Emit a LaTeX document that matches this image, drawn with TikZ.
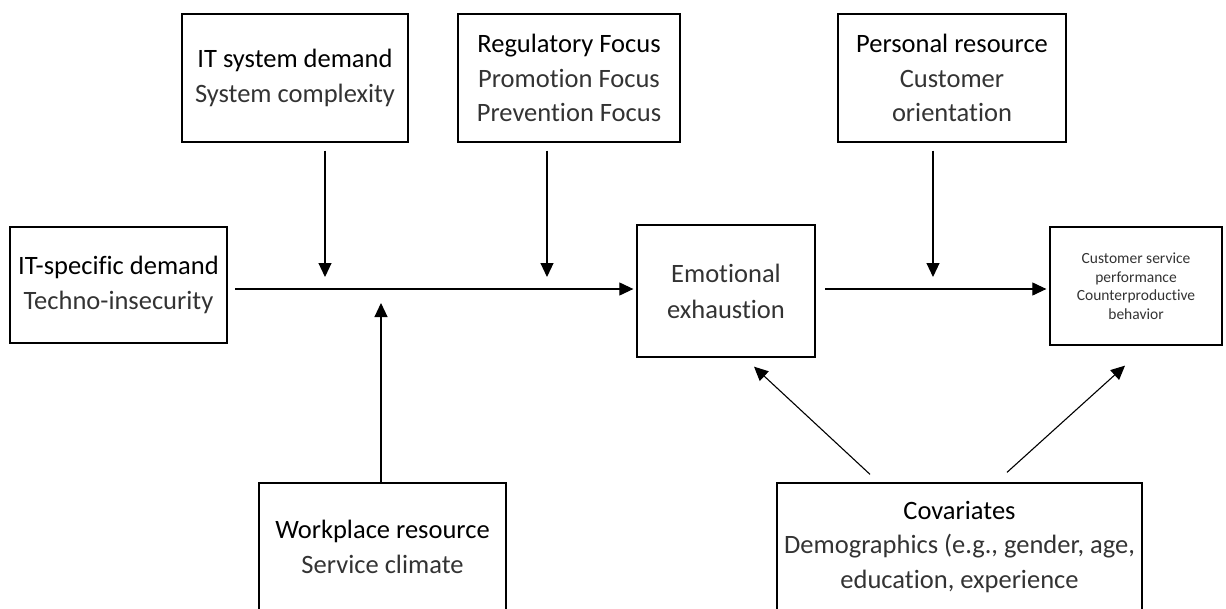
\documentclass[tikz,border=0pt]{standalone}
\usepackage{fontspec}
\setmainfont{Carlito}[Ligatures=NoCommon]
\usetikzlibrary{arrows.meta}

\tikzset{
  box/.style={draw, line width=1.3pt, align=center, inner sep=0pt},
  arr/.style={line width=1.1pt, -{Triangle[length=14pt,width=13pt]}},
  head/.style={font=\fontsize{26.5}{34.5}\selectfont},
}
\newcommand{\sub}[1]{{\color{black!80}#1}}

\begin{document}
\begin{tikzpicture}[x=1pt,y=-1pt]
			\useasboundingbox (0,0) rectangle (1226,608);
			
			% boxes
			\node[box, head, minimum width=217pt, minimum height=116pt] (itspec) at (118.5,285) {IT-specific demand\\ \sub{Techno-insecurity}};
			\node[box, head, minimum width=226pt, minimum height=128pt] (itsys) at (295,78) {IT system demand\\ \sub{System complexity}};
			\node[box, head, minimum width=222pt, minimum height=128pt] (regfoc) at (569,78) {Regulatory Focus\\ \sub{Promotion Focus}\\ \sub{Prevention Focus}};
			\node[box, head, minimum width=228pt, minimum height=128pt] (persres) at (952,78) {Personal resource\\ \sub{Customer}\\ \sub{orientation}};
			\node[box, head, minimum width=178pt, minimum height=132pt, font=\fontsize{26.5}{36}\selectfont] (emoexh) at (726,291) {\sub{Emotional}\\ \sub{exhaustion}};
			\node[box, minimum width=172pt, minimum height=118pt, font=\fontsize{15.5}{18.5}\selectfont] (cusperf) at (1136,286) {\sub{Customer service}\\ \sub{performance}\\ \sub{Counterproductive}\\ \sub{behavior}};
			\node[box, head, minimum width=247pt, minimum height=128pt] (workres) at (382.5,547) {Workplace resource\\ \sub{Service climate}};
			\node[box, head, minimum width=365pt, minimum height=128pt] (covar) at (959.5,547) {Covariates\\ \sub{Demographics (e.g., gender, age,}\\ \sub{education, experience}};
			
			% points on the paths
			\coordinate (m1) at (235,289);
			\coordinate (j1) at (325,289);
			\coordinate (j2) at (547,289);
			\coordinate (j3) at (381,289);
			\coordinate (j4) at (933,289);
			\coordinate (m2) at (825,289);
			
			\draw[arr] (m1) -- ([xshift=-3pt]emoexh.west |- m1);
			\draw[arr] (m2) -- ([xshift=-3pt]cusperf.west |- m2);
			\draw[arr] ([yshift=-8pt]itsys.south -| j1) -- ([yshift=12pt]j1);
			\draw[arr] ([yshift=-8pt]regfoc.south -| j2) -- ([yshift=12pt]j2);
			\draw[arr] ([yshift=-8pt]persres.south -| j4) -- ([yshift=12pt]j4);
			\draw[arr] (workres.north -| j3) -- ([yshift=-14pt]j3);
			\draw[arr] ([shift={(-89.5pt,8pt)}]covar.north) -- ([shift={(28pt,-9pt)}]emoexh.south);
			\draw[arr] ([shift={(47.5pt,10pt)}]covar.north) -- ([shift={(-11pt,-20pt)}]cusperf.south);
		\end{tikzpicture}
\end{document}
